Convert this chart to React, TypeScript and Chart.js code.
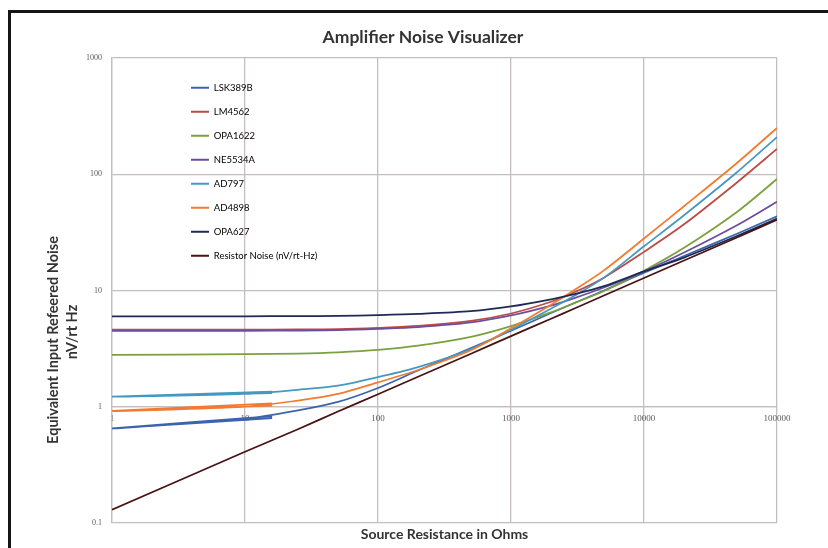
import React, { useEffect, useRef } from "react";
import { Chart, registerables } from "chart.js";

Chart.register(...registerables);

// ---- data ----
const seriesNames = [
  "LSK389B",
  "LM4562",
  "OPA1622",
  "NE5534A",
  "AD797",
  "AD4898",
  "OPA627",
  "Resistor Noise (nV/rt-Hz)",
];
const seriesColors = [
  "#3c64ae",
  "#bd4a44",
  "#7ba13f",
  "#6b4e9c",
  "#4798c0",
  "#f27b2f",
  "#1e2a55",
  "#4a1212",
];

// source resistance (ohms) for the main traces
const ohms = [1, 10, 25, 50, 100, 200, 500, 1000, 2000, 3000, 5000, 10000, 20000, 50000, 100000];

const lsk389b = [0.65, 0.79, 0.93, 1.1, 1.45, 2.05, 3.2, 4.5, 6.4, 7.8, 10.0, 14.2, 19.8, 30.8, 43.5];
const lm4562 = [4.6, 4.6, 4.62, 4.66, 4.78, 4.96, 5.48, 6.34, 8.0, 9.66, 12.9, 21.5, 37.1, 85, 165];
const opa1622 = [2.8, 2.83, 2.87, 2.94, 3.08, 3.35, 3.99, 4.93, 6.5, 7.8, 9.9, 14.8, 23.3, 47.4, 91];
const ne5534a = [4.5, 4.5, 4.52, 4.56, 4.68, 4.85, 5.32, 6.1, 7.42, 8.6, 10.6, 14.6, 21.2, 36.4, 58];
const ad797 = [1.22, 1.29, 1.4, 1.52, 1.8, 2.19, 3.13, 4.6, 6.98, 9.0, 12.9, 24, 44.4, 104, 209];
const ad4898 = [0.92, 1.0, 1.13, 1.29, 1.62, 2.07, 3.06, 4.73, 7.55, 10.1, 14.9, 28, 53.1, 125, 250];
const opa627 = [6.0, 6.0, 6.02, 6.05, 6.15, 6.3, 6.65, 7.3, 8.4, 9.3, 10.9, 14.6, 19.2, 29.4, 41.5];
const resistorNoise = [0.13, 0.41, 0.64, 0.91, 1.28, 1.81, 2.86, 4.05, 5.72, 7.0, 9.05, 12.8, 18.1, 28.6, 40.5];

// short back-and-forth strokes seen at the low-resistance end of three traces
const fanOhms = [1, 16, 1, 16];
const lsk389bFan = [0.65, 0.8, 0.65, 0.83];
const ad797Fan = [1.22, 1.31, 1.22, 1.35];
const ad4898Fan = [0.92, 1.02, 0.92, 1.07];
const noFan: number[] = [];

const seriesValues = [lsk389b, lm4562, opa1622, ne5534a, ad797, ad4898, opa627, resistorNoise];
const seriesFans = [lsk389bFan, noFan, noFan, noFan, ad797Fan, ad4898Fan, noFan, noFan];

const xTicks = [1, 10, 100, 1000, 10000, 100000];
const yTicks = [0.1, 1, 10, 100, 1000];

const chartTitle = "Amplifier Noise Visualizer";
const xTitle = "Source Resistance in Ohms";
const yTitleLines = ["Equivalent Input Refeered Noise", "nV/rt Hz"];

// ---- helpers ----
function toPoints(fan: number[], main: number[]) {
  const pts: { x: number; y: number }[] = [];
  fan.forEach((v, i) => pts.push({ x: fanOhms[i], y: v }));
  main.forEach((v, i) => pts.push({ x: ohms[i], y: v }));
  return pts;
}

const GRID = "#c4bebe";
const TEXT = "#333333";

const legendPlacer = {
  id: "legendPlacer",
  afterLayout(chart: any) {
    const lg = chart.legend;
    if (lg) {
      const pad = lg.options.labels.padding;
      lg.left = 191 - pad;
      lg.top = 83 - pad;
    }
  },
};

const yTitlePlugin = {
  id: "yTitlePlugin",
  afterDraw(chart: any) {
    const ctx = chart.ctx;
    ctx.save();
    ctx.fillStyle = TEXT;
    ctx.font = "bold 14.5px Lato";
    ctx.textAlign = "center";
    ctx.textBaseline = "middle";
    const xs = [53, 72];
    const ys = [340, 332];
    yTitleLines.forEach((line, i) => {
      ctx.save();
      ctx.translate(xs[i], ys[i]);
      ctx.rotate(-Math.PI / 2);
      ctx.fillText(line, 0, 0);
      ctx.restore();
    });
    ctx.restore();
  },
};

export default function App() {
  const canvasRef = useRef<HTMLCanvasElement | null>(null);

  useEffect(() => {
    if (!canvasRef.current) return;
    const datasets = seriesNames.map((name, i) => ({
      label: name,
      data: toPoints(seriesFans[i], seriesValues[i]),
      borderColor: seriesColors[i],
      backgroundColor: seriesColors[i],
      borderWidth: 1.75,
      pointRadius: 0,
      pointHoverRadius: 0,
      tension: 0.3,
      fill: false,
      order: seriesNames.length - i,
    }));

    const chart = new Chart(canvasRef.current, {
      type: "line",
      data: { datasets },
      options: {
        animation: false,
        responsive: false,
        events: [],
        layout: { padding: { left: 69, right: 51, top: 0, bottom: 0 } },
        plugins: {
          tooltip: { enabled: false },
          title: {
            display: true,
            text: chartTitle,
            color: TEXT,
            font: { family: "Lato", size: 17.5, weight: "bold" },
            padding: { top: 26.5, bottom: 10.5 },
          },
          subtitle: {
            display: true,
            position: "bottom",
            fullSize: false,
            text: xTitle,
            color: TEXT,
            font: { family: "Lato", size: 14, weight: "bold" },
            padding: { top: 2.6, bottom: 5.6 },
          },
          legend: {
            position: "chartArea",
            align: "start",
            labels: {
              boxWidth: 18,
              boxHeight: 2,
              padding: 14.5,
              color: "#404040",
              font: { family: "Lato", size: 9.5 },
              generateLabels: (c: any) =>
                c.data.datasets.map((ds: any, i: number) => ({
                  text: ds.label,
                  fillStyle: ds.borderColor,
                  strokeStyle: ds.borderColor,
                  lineWidth: 0,
                  hidden: false,
                  datasetIndex: i,
                })),
            },
          },
        },
        scales: {
          x: {
            type: "logarithmic",
            position: { y: 1 } as any,
            min: 1,
            max: 100000,
            afterBuildTicks: (scale: any) => {
              scale.ticks = xTicks.map((v) => ({ value: v }));
            },
            grid: { color: GRID, lineWidth: 1.3, drawTicks: false },
            border: { display: true, color: GRID, width: 1.3 },
            ticks: {
              autoSkip: false,
              maxRotation: 0,
              padding: 6,
              color: "#595959",
              font: { family: "Liberation Serif", size: 9 },
              callback: (v: any) => String(v),
            },
          },
          y: {
            type: "logarithmic",
            position: "left",
            min: 0.1,
            max: 1000,
            afterBuildTicks: (scale: any) => {
              scale.ticks = yTicks.map((v) => ({ value: v }));
            },
            afterFit: (scale: any) => {
              scale.width = 43;
            },
            grid: { color: GRID, lineWidth: 1.3, drawTicks: false },
            border: { display: true, color: GRID, width: 1.3 },
            ticks: {
              autoSkip: false,
              padding: 10,
              color: "#595959",
              font: { family: "Liberation Serif", size: 8 },
              callback: (v: any) => String(v),
            },
          },
        },
      },
      plugins: [legendPlacer, yTitlePlugin],
    } as any);

    return () => chart.destroy();
  }, []);

  return (
    <div
      style={{
        position: "absolute",
        left: 0,
        top: 0,
        width: 828,
        height: 548,
        background: "#ffffff",
        overflow: "hidden",
      }}
    >
      <div
        style={{
          position: "absolute",
          left: 8,
          top: 10,
          width: 820,
          height: 538,
          borderTop: "3px solid #151515",
          borderLeft: "3px solid #151515",
          boxSizing: "border-box",
        }}
      />
      <canvas
        ref={canvasRef}
        width={828}
        height={548}
        style={{ position: "absolute", left: 0, top: 0 }}
      />
    </div>
  );
}
